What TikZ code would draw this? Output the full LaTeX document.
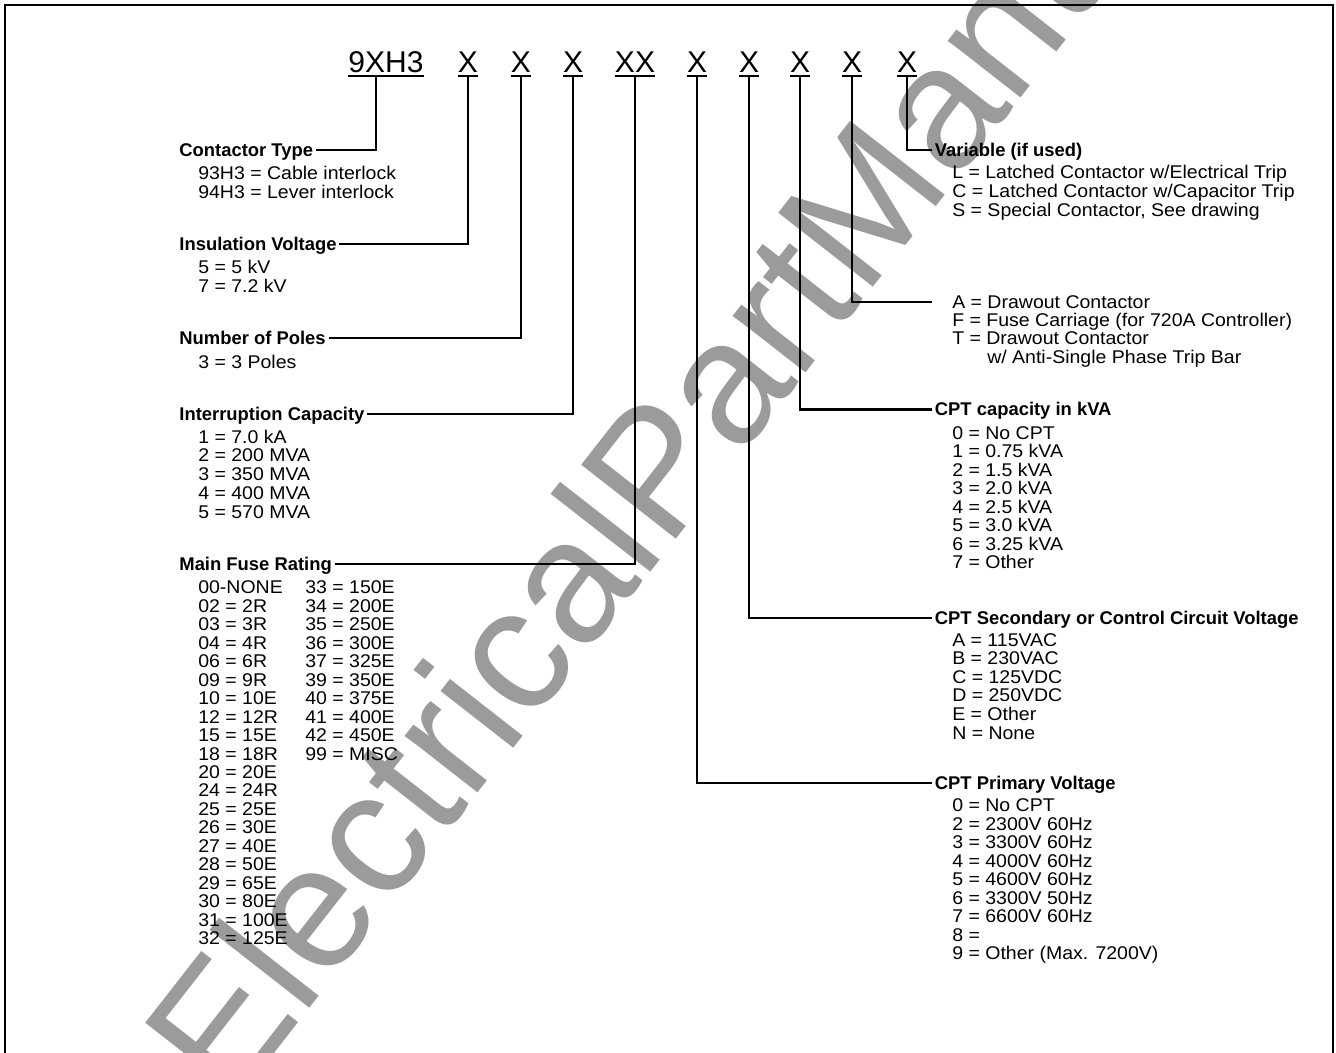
\documentclass[tikz,border=0pt]{standalone}
\usepackage{fontspec}
\setmainfont{Liberation Sans}[FakeStretch=1.06]
\newfontfamily\headfont{Liberation Sans}
\newfontfamily\codefont{Liberation Sans}
\usetikzlibrary{positioning,calc}
\definecolor{wmgray}{RGB}{155,155,155}

\begin{document}
\begin{tikzpicture}[x=0.75pt,y=-0.75pt]
	\tikzstyle{Code}    = [font=\codefont\fontsize{22.5}{24}\selectfont, anchor=base, inner xsep=0pt, inner ysep=3pt, text depth=0pt]
	\tikzstyle{Heading} = [font=\headfont\bfseries\fontsize{13.8}{14}\selectfont, anchor=base west, inner xsep=2pt, inner ysep=0pt, text height=9.75pt, text depth=0pt]
	\tikzstyle{Item}    = [font=\fontsize{13.8}{14}\selectfont, anchor=base west, inner sep=0pt]
	\tikzstyle{Lead}    = [line width=1.8pt]
	\tikzstyle{Bar}     = [line width=1.2pt]
	\tikzstyle{Frame}   = [line width=1.5pt]

	\useasboundingbox (0,0) rectangle (1336,1053);

	% watermark behind everything
	\begin{scope}
		\clip (0,0) rectangle (1336,1053);
		\node (wm) at (702,405) [rotate=52, text=wmgray, font=\codefont\fontsize{131}{131}\selectfont] {ElectricalPartManuals};
	\end{scope}

	\draw [Frame] (5,1060) -- (5,5) -- (1333,5) -- (1333,1060);

	% catalogue number
	\node (c0) at (386,72) [Code] {9XH3};
	\node (c1) at (468,72) [Code] {X};
	\node (c2) at (521,72) [Code] {X};
	\node (c3) at (573,72) [Code] {X};
	\node (c4) at (635,72) [Code] {XX};
	\node (c5) at (697,72) [Code] {X};
	\node (c6) at (749,72) [Code] {X};
	\node (c7) at (800,72) [Code] {X};
	\node (c8) at (852,72) [Code] {X};
	\node (c9) at (907,72) [Code] {X};
	\foreach \c in {c0,c1,c2,c3,c4,c5,c6,c7,c8,c9}
		\draw [Bar] (\c.south west) -- (\c.south east);

	% left column
	\node (ctype)  at (176.5,156.5) [Heading] {Contactor Type};
	\foreach \t [count=\i from 0] in {93H3 = Cable interlock, 94H3 = Lever interlock}
		\node (ctype-\i) at (198,{179.2+19*\i}) [Item] {\t};

	\node (insul)  at (176.5,250.5) [Heading] {Insulation Voltage};
	\foreach \t [count=\i from 0] in {5 = 5 kV, 7 = 7.2 kV}
		\node (insul-\i) at (198,{273.8+18.7*\i}) [Item] {\t};

	\node (poles)  at (176.5,344.5) [Heading] {Number of Poles};
	\node (poles-0) at (198,368.2) [Item] {3 = 3 Poles};

	\node (intcap) at (176.5,420.5) [Heading] {Interruption Capacity};
	\foreach \t [count=\i from 0] in {1 = 7.0 kA, 2 = 200 MVA, 3 = 350 MVA, 4 = 400 MVA, 5 = 570 MVA}
		\node (intcap-\i) at (198,{443+18.9*\i}) [Item] {\t};

	\node (fuse)   at (176.5,570.5) [Heading] {Main Fuse Rating};
	\foreach \t [count=\i from 0] in {00-NONE, 02 = 2R, 03 = 3R, 04 = 4R, 06 = 6R, 09 = 9R, 10 = 10E, 12 = 12R, 15 = 15E, 18 = 18R,
			20 = 20E, 24 = 24R, 25 = 25E, 26 = 30E, 27 = 40E, 28 = 50E, 29 = 65E, 30 = 80E, 31 = 100E, 32 = 125E}
		\node (fuseA-\i) at (198,{593.8+18.47*\i}) [Item] {\t};
	\foreach \t [count=\i from 0] in {33 = 150E, 34 = 200E, 35 = 250E, 36 = 300E, 37 = 325E, 39 = 350E, 40 = 375E, 41 = 400E, 42 = 450E, 99 = MISC}
		\node (fuseB-\i) at (305,{593.8+18.47*\i}) [Item] {\t};

	% right column
	\node (var)    at (932,156.5) [Heading] {Variable (if used)};
	\foreach \t [count=\i from 0] in {L = Latched Contactor w/Electrical Trip, C = Latched Contactor w/Capacitor Trip, {S = Special Contactor, See drawing}}
		\node (var-\i) at (952,{178.2+19.2*\i}) [Item] {\t};

	\foreach \t [count=\i from 0] in {A = Drawout Contactor, F = Fuse Carriage (for 720A Controller), T = Drawout Contactor}
		\node (draw-\i) at (952,{308.2+18.33*\i}) [Item] {\t};
	\node (draw-3) at (987,363.2) [Item] {w/ Anti-Single Phase Trip Bar};

	\node (kva)    at (932,415.8) [Heading] {CPT capacity in kVA};
	\foreach \t [count=\i from 0] in {0 = No CPT, 1 = 0.75 kVA, 2 = 1.5 kVA, 3 = 2.0 kVA, 4 = 2.5 kVA, 5 = 3.0 kVA, 6 = 3.25 kVA, 7 = Other}
		\node (kva-\i) at (952,{439.2+18.5*\i}) [Item] {\t};

	\node (sec)    at (932,624.5) [Heading] {CPT Secondary or Control Circuit Voltage};
	\foreach \t [count=\i from 0] in {A = 115VAC, B = 230VAC, C = 125VDC, D = 250VDC, E = Other, N = None}
		\node (sec-\i) at (952,{646+18.6*\i}) [Item] {\t};

	\node (prim)   at (932,789.2) [Heading] {CPT Primary Voltage};
	\foreach \t [count=\i from 0] in {0 = No CPT, 2 = 2300V 60Hz, 3 = 3300V 60Hz, 4 = 4000V 60Hz, 5 = 4600V 60Hz, 6 = 3300V 50Hz, 7 = 6600V 60Hz, 8 =, 9 = Other (Max. 7200V)}
		\node (prim-\i) at (952,{811.5+18.55*\i}) [Item] {\t};

	% leads
	\draw [Lead] ([xshift=-7.5pt]c0.south) |- (ctype.east);
	\draw [Lead] (c1.south) |- (insul.east);
	\draw [Lead] (c2.south) |- (poles.east);
	\draw [Lead] (c3.south) |- (intcap.east);
	\draw [Lead] (c4.south) |- (fuse.east);
	\draw [Lead] (c5.south) |- (prim.west);
	\draw [Lead] (c6.south) |- (sec.west);
	\draw [Lead] (c7.south) |- (kva.west);
	\draw [Lead] (c8.south) |- ([xshift=-15pt]draw-0.west);
	\draw [Lead] (c9.south) |- (var.west);
\end{tikzpicture}
\end{document}
